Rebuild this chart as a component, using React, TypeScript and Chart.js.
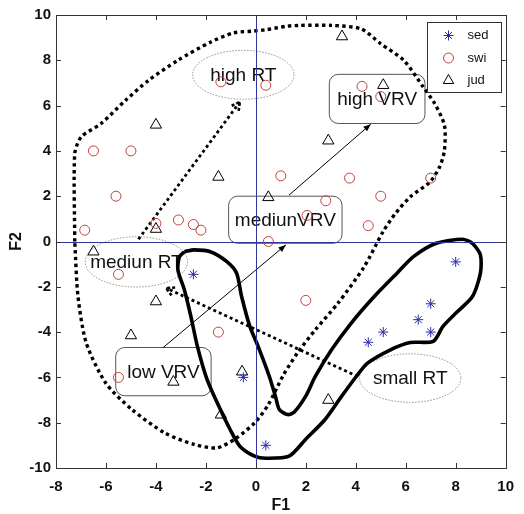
import React, { useEffect, useRef } from "react";
import { Chart, registerables } from "chart.js";
import { drawPoint } from "chart.js/helpers";
Chart.register(...registerables);

// ---- data ----
const sedX = [-2.5, -0.5, 0.4, 8, 7, 6.5, 5.1, 7, 4.5];
const sedY = [-1.45, -6, -9, -0.9, -2.75, -3.45, -4, -4, -4.45];
const swiX = [-6.5, -5, -5.6, -6.85, -4, -3.1, -2.5, -2.2, -1.4, 0.4, 1, 0.5, 4.25, 5, 3.75, 5, 7, 2.8, 2.05, 4.5, -5.5, -1.5, -5.5, 2];
const swiY = [4, 4, 2, 0.5, 0.8, 0.95, 0.75, 0.5, 7.05, 6.9, 2.9, 0, 6.85, 6.4, 2.8, 2, 2.8, 1.8, 1.15, 0.7, -1.45, -4, -6, -2.6];
const judX = [-4, -1.5, 0.5, -4, 3.45, 5.1, 2.9, -6.5, -4, -5, -3.3, -0.55, -1.4, 2.9];
const judY = [5.15, 2.85, 1.95, 0.55, 9.05, 6.9, 4.45, -0.45, -2.65, -4.15, -6.2, -5.75, -7.65, -7];

const seriesNames = ["sed", "swi", "jud"];
const xTickValues = [-8, -6, -4, -2, 0, 2, 4, 6, 8, 10];
const yTickValues = [-10, -8, -6, -4, -2, 0, 2, 4, 6, 8, 10];
const axisTitles = ["F1", "F2"];

// dotted outline (closed)
const dotX = [-7.25, -7.25, -6.99, -6.2, -5.22, -4.3, -3.12, -1.82, -0.9, -0.11, 0.41, 1.2, 1.72, 3.03, 4.21, 5.0, 5.92, 6.7, 7.16, 7.55, 7.55, 7.36, 6.97, 6.18, 5.59, 5.1, 4.34, 3.29, 2.38, 1.66, 1.1, 0.5, -0.05, -0.77, -1.55, -2.47, -3.65, -4.96, -6.01, -6.79, -7.12, -7.25];
const dotY = [0, 3.88, 4.62, 5.2, 6.23, 7.11, 8.0, 8.8, 9.21, 9.29, 9.35, 9.5, 9.54, 9.54, 9.39, 8.73, 8.0, 6.82, 6.09, 5.13, 4.03, 3.3, 2.63, 1.97, 1.24, 0.45, -1.11, -2.72, -3.9, -4.93, -5.9, -7.2, -8.01, -8.67, -9.11, -8.96, -8.45, -7.42, -6.25, -4.48, -2.43, 0];

// solid outline (closed)
const solX = [-2.86, -2.47, -1.82, -1.16, -0.77, -0.57, -0.24, 0.09, 0.54, 0.8, 0.94, 1.27, 1.53, 1.99, 2.38, 3.03, 3.82, 4.74, 5.65, 6.31, 7.22, 8.27, 8.67, 8.99, 8.99, 8.67, 8.01, 7.49, 7.1, 6.18, 5.39, 4.47, 4.02, 3.43, 2.77, 1.99, 1.33, 0.41, -0.05, -0.64, -1.03, -1.42, -1.95, -2.34, -2.6, -2.86, -3.12, -3.06, -2.86];
const solY = [-0.45, -0.37, -0.45, -0.89, -1.4, -2.43, -3.75, -4.63, -5.96, -6.9, -7.42, -7.64, -7.54, -6.84, -5.96, -4.78, -3.6, -2.43, -1.4, -0.67, -0.08, 0.1, -0.08, -0.59, -1.4, -2.43, -3.16, -3.75, -4.41, -4.46, -4.78, -5.37, -5.96, -6.84, -7.86, -8.74, -9.48, -9.57, -9.48, -9.04, -8.3, -7.42, -6.1, -4.63, -3.31, -2.14, -1.26, -0.67, -0.45];

// ellipse annotations
const ellLabels = ["high RT", "mediun RT", "small RT"];
const ellCX = [-0.5, -4.78, 6.18];
const ellCY = [7.36, -0.9, -6.03];
const ellRX = [2.03, 2.05, 2.03];
const ellRY = [1.08, 1.11, 1.07];

// box annotations
const boxLabels = ["high VRV", "mediunVRV", "low VRV"];
const boxX1 = [2.94, -1.09, -5.61];
const boxX2 = [6.77, 3.45, -1.79];
const boxY1 = [7.38, 2.0, -4.68];
const boxY2 = [5.21, -0.08, -6.81];

// arrows
const arrowFromX = [-3.71, 1.33, -4.7, 4.08];
const arrowFromY = [-4.68, 2.05, 0.1, -5.96];
const arrowToX = [1.2, 4.6, -0.64, -3.59];
const arrowToY = [-0.15, 5.18, 6.16, -2.06];
const arrowDotted = [false, false, true, true];

const pts = (xs: number[], ys: number[]) => xs.map((x, i) => ({ x, y: ys[i] }));

const FONT = '"Liberation Sans", Arial, Helvetica, sans-serif';
const AXIS_BLUE = "#34349c";

const annotPlugin = {
  id: "annot",
  beforeDatasetsDraw(chart: any) {
    const { ctx, scales } = chart;
    const xs = scales.x, ys = scales.y;
    ctx.save();
    // ellipses
    ctx.strokeStyle = "#8c8c8c";
    ctx.lineWidth = 1;
    ctx.setLineDash([1.5, 1.5]);
    ellLabels.forEach((_, i) => {
      const cx = xs.getPixelForValue(ellCX[i]);
      const cy = ys.getPixelForValue(ellCY[i]);
      const rx = Math.abs(xs.getPixelForValue(ellCX[i] + ellRX[i]) - cx);
      const ry = Math.abs(ys.getPixelForValue(ellCY[i] + ellRY[i]) - cy);
      ctx.beginPath();
      ctx.ellipse(cx, cy, rx, ry, 0, 0, Math.PI * 2);
      ctx.stroke();
    });
    ctx.setLineDash([]);
    // boxes
    ctx.strokeStyle = "#555";
    boxLabels.forEach((_, i) => {
      const a = xs.getPixelForValue(boxX1[i]);
      const b = xs.getPixelForValue(boxX2[i]);
      const c = ys.getPixelForValue(boxY1[i]);
      const d = ys.getPixelForValue(boxY2[i]);
      const l = Math.min(a, b), r = Math.max(a, b), t = Math.min(c, d), bt = Math.max(c, d);
      const rad = 9;
      ctx.beginPath();
      ctx.moveTo(l + rad, t);
      ctx.arcTo(r, t, r, bt, rad);
      ctx.arcTo(r, bt, l, bt, rad);
      ctx.arcTo(l, bt, l, t, rad);
      ctx.arcTo(l, t, r, t, rad);
      ctx.closePath();
      ctx.stroke();
    });
    // texts
    ctx.fillStyle = "#111";
    ctx.font = "19px " + FONT;
    ctx.textAlign = "center";
    ctx.textBaseline = "middle";
    ellLabels.forEach((lab, i) => {
      ctx.fillText(lab, xs.getPixelForValue(ellCX[i]), ys.getPixelForValue(ellCY[i]) + 1);
    });
    boxLabels.forEach((lab, i) => {
      ctx.fillText(
        lab,
        xs.getPixelForValue((boxX1[i] + boxX2[i]) / 2),
        ys.getPixelForValue((boxY1[i] + boxY2[i]) / 2) + 1
      );
    });
    ctx.restore();
  },
  afterDatasetsDraw(chart: any) {
    const { ctx, chartArea, scales } = chart;
    const xs = scales.x, ys = scales.y;
    ctx.save();
    // arrowheads
    arrowFromX.forEach((_, i) => {
      const x0 = xs.getPixelForValue(arrowFromX[i]);
      const y0 = ys.getPixelForValue(arrowFromY[i]);
      const x1 = xs.getPixelForValue(arrowToX[i]);
      const y1 = ys.getPixelForValue(arrowToY[i]);
      const ang = Math.atan2(y1 - y0, x1 - x0);
      if (arrowDotted[i]) {
        const len = 9, sp = 0.5;
        ctx.strokeStyle = "#000";
        ctx.lineWidth = 2.6;
        ctx.setLineDash([3, 2]);
        ctx.beginPath();
        ctx.moveTo(x1 - len * Math.cos(ang - sp), y1 - len * Math.sin(ang - sp));
        ctx.lineTo(x1, y1);
        ctx.lineTo(x1 - len * Math.cos(ang + sp), y1 - len * Math.sin(ang + sp));
        ctx.stroke();
        ctx.setLineDash([]);
      } else {
        const len = 8, sp = 0.38;
        ctx.fillStyle = "#000";
        ctx.beginPath();
        ctx.moveTo(x1, y1);
        ctx.lineTo(x1 - len * Math.cos(ang - sp), y1 - len * Math.sin(ang - sp));
        ctx.lineTo(x1 - len * Math.cos(ang + sp), y1 - len * Math.sin(ang + sp));
        ctx.closePath();
        ctx.fill();
      }
    });
    // zero lines
    ctx.strokeStyle = AXIS_BLUE;
    ctx.lineWidth = 1;
    ctx.beginPath();
    const zx = Math.round(xs.getPixelForValue(0)) + 0.5;
    const zy = Math.round(ys.getPixelForValue(0)) + 0.5;
    ctx.moveTo(zx, chartArea.top);
    ctx.lineTo(zx, chartArea.bottom);
    ctx.moveTo(chartArea.left, zy);
    ctx.lineTo(chartArea.right, zy);
    ctx.stroke();
    // frame
    ctx.strokeStyle = "#333";
    ctx.lineWidth = 1;
    ctx.strokeRect(
      Math.round(chartArea.left) + 0.5,
      Math.round(chartArea.top) + 0.5,
      Math.round(chartArea.right - chartArea.left),
      Math.round(chartArea.bottom - chartArea.top)
    );
    // inside ticks
    const tl = 5;
    ctx.beginPath();
    xs.ticks.forEach((t: any) => {
      const px = Math.round(xs.getPixelForValue(t.value)) + 0.5;
      ctx.moveTo(px, chartArea.bottom);
      ctx.lineTo(px, chartArea.bottom - tl);
      ctx.moveTo(px, chartArea.top);
      ctx.lineTo(px, chartArea.top + tl);
    });
    ys.ticks.forEach((t: any) => {
      const py = Math.round(ys.getPixelForValue(t.value)) + 0.5;
      ctx.moveTo(chartArea.left, py);
      ctx.lineTo(chartArea.left + tl, py);
      ctx.moveTo(chartArea.right, py);
      ctx.lineTo(chartArea.right - tl, py);
    });
    ctx.stroke();
    // legend
    const bw = 74, bh = 70;
    const bx = Math.round(chartArea.right - 5 - bw) + 0.5;
    const by = Math.round(chartArea.top + 7) + 0.5;
    ctx.fillStyle = "#fff";
    ctx.fillRect(bx, by, bw, bh);
    ctx.strokeStyle = "#333";
    ctx.strokeRect(bx, by, bw, bh);
    const styles = [
      { pointStyle: "star", radius: 5, color: "#2b2ba8" },
      { pointStyle: "circle", radius: 5, color: "#c0403c" },
      { pointStyle: "triangle", radius: 6, color: "#000" },
    ];
    ctx.font = "13px " + FONT;
    ctx.textAlign = "left";
    ctx.textBaseline = "middle";
    seriesNames.forEach((name, i) => {
      const ry = by + 13 + i * 22.5;
      ctx.strokeStyle = styles[i].color;
      ctx.fillStyle = "rgba(0,0,0,0)";
      ctx.lineWidth = 1;
      drawPoint(ctx, { pointStyle: styles[i].pointStyle, radius: styles[i].radius, rotation: 0, borderWidth: 1 } as any, bx + 21, ry);
      ctx.fillStyle = "#111";
      ctx.fillText(name, bx + 40, ry);
    });
    ctx.restore();
  },
};

export default function App() {
  const ref = useRef<HTMLCanvasElement | null>(null);
  useEffect(() => {
    if (!ref.current) return;
    const tickFont = { family: FONT, size: 15, weight: "bold" as const };
    const titleFont = { family: FONT, size: 16, weight: "bold" as const, lineHeight: 1 };
    const chart = new Chart(ref.current, {
      type: "scatter",
      data: {
        datasets: [
          {
            label: seriesNames[0],
            data: pts(sedX, sedY),
            pointStyle: "star",
            pointRadius: 5,
            pointBorderColor: "#2b2ba8",
            pointBackgroundColor: "rgba(0,0,0,0)",
            pointBorderWidth: 1,
          },
          {
            label: seriesNames[1],
            data: pts(swiX, swiY),
            pointStyle: "circle",
            pointRadius: 5,
            pointBorderColor: "#c0403c",
            pointBackgroundColor: "rgba(0,0,0,0)",
            pointBorderWidth: 1,
          },
          {
            label: seriesNames[2],
            data: pts(judX, judY),
            pointStyle: "triangle",
            pointRadius: 6.5,
            pointBorderColor: "#000",
            pointBackgroundColor: "rgba(0,0,0,0)",
            pointBorderWidth: 1,
          },
          ...arrowFromX.map((_, i) => ({
            label: "arrow" + i,
            data: [
              { x: arrowFromX[i], y: arrowFromY[i] },
              { x: arrowToX[i], y: arrowToY[i] },
            ],
            showLine: true,
            pointRadius: 0,
            borderColor: "#000",
            borderWidth: arrowDotted[i] ? 2.8 : 1,
            borderDash: arrowDotted[i] ? [3, 3] : [],
          })),
          {
            label: "solid",
            data: pts(solX, solY),
            showLine: true,
            pointRadius: 0,
            borderColor: "#000",
            borderWidth: 3.6,
            borderJoinStyle: "round",
            tension: 0.25,
          },
          {
            label: "dotted",
            data: pts(dotX, dotY),
            showLine: true,
            pointRadius: 0,
            borderColor: "#000",
            borderWidth: 3.4,
            borderDash: [3.4, 3.4],
            tension: 0.25,
          },
        ] as any,
      },
      options: {
        animation: false,
        responsive: false,
        maintainAspectRatio: false,
        events: [],
        layout: { padding: { left: 0, right: 10, top: 15, bottom: 0 } },
        plugins: {
          legend: { display: false },
          tooltip: { enabled: false },
        },
        scales: {
          x: {
            type: "linear",
            min: -8,
            max: 10,
            afterBuildTicks: (s: any) => {
              s.ticks = xTickValues.map((v) => ({ value: v }));
            },
            afterFit: (s: any) => {
              s.height = 46;
            },
            grid: { display: false, drawTicks: false },
            border: { display: false },
            ticks: { color: "#111", font: tickFont, padding: 10, maxRotation: 0, autoSkip: false },
            title: { display: true, text: axisTitles[0], color: "#111", font: titleFont, padding: 0 },
          },
          y: {
            type: "linear",
            min: -10,
            max: 10,
            afterBuildTicks: (s: any) => {
              s.ticks = yTickValues.map((v) => ({ value: v }));
            },
            afterFit: (s: any) => {
              s.width = 56;
            },
            grid: { display: false, drawTicks: false },
            border: { display: false },
            ticks: { color: "#111", font: tickFont, padding: 5, autoSkip: false },
            title: { display: true, text: axisTitles[1], color: "#111", font: titleFont, padding: { top: 9, bottom: 0 } },
          },
        },
      },
      plugins: [annotPlugin],
    } as any);
    return () => chart.destroy();
  }, []);
  return (
    <div style={{ position: "fixed", left: 0, top: 0, width: 524, height: 514, background: "#fff" }}>
      <canvas ref={ref} width={524} height={514} style={{ display: "block", width: 524, height: 514 }} />
    </div>
  );
}
